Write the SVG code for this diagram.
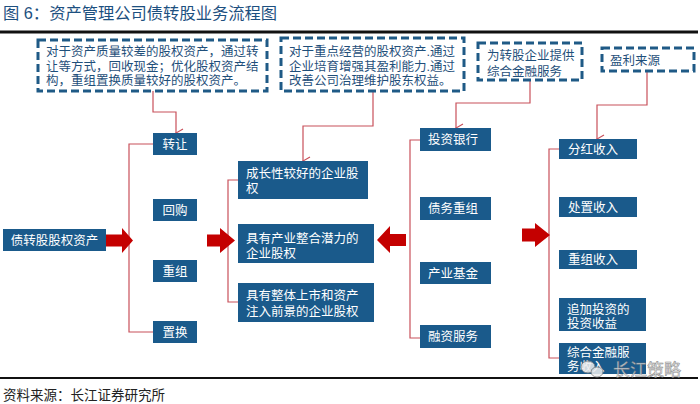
<svg xmlns="http://www.w3.org/2000/svg" width="700" height="404" viewBox="0 0 700 404">
<defs>
<style>
.t{font-family:"Liberation Sans","Noto Sans CJK SC",sans-serif;}
.title{font-size:16.3px;fill:#1d5080;}
.foot{font-size:13.5px;fill:#222;}
.box{fill:#1a5a8b;}
.bt{font-size:12.5px;fill:#fff;}
.dash{fill:#fff;stroke:#1f5a86;stroke-width:3;stroke-dasharray:8 4;}
.dt{font-size:12.5px;fill:#1f4f7a;}
.con{fill:none;stroke:#c8505a;stroke-width:1.2;}
.big{fill:#c40000;}
.rule{stroke:#111;}
</style>
<marker id="ah" markerWidth="10" markerHeight="10" refX="5" refY="9" orient="auto" markerUnits="userSpaceOnUse" viewBox="0 0 10 10">
<path d="M1,2 L5,9 L9,2" fill="none" stroke="#c8505a" stroke-width="1.2"/>
</marker>
</defs>
<rect width="700" height="404" fill="#fff"/>
<text class="t title" x="3" y="19">图 6：资产管理公司债转股业务流程图</text>
<line class="rule" x1="0" y1="32" x2="698" y2="32" stroke-width="3"/>

<g id="connectors">
<path class="con" d="M153,91 V112 H176 V133" marker-end="url(#ah)"/>
<path class="con" d="M373,91 V126 H303 V161" marker-end="url(#ah)"/>
<path class="con" d="M530,80 V103 H456 V128" marker-end="url(#ah)"/>
<path class="con" d="M647,71 V105 H597 V139" marker-end="url(#ah)"/>
<path class="con" d="M153,144 H129 V332 H153"/>
<path class="con" d="M238,180 H228 V302 H238"/>
<path class="con" d="M420,140 H410 V338 H420"/>
<path class="con" d="M559,149 H549 V358 H559"/>
<polygon class="big" points="105,234.5 122,234.5 122,228 133,240.5 122,253 122,246.5 105,246.5"/>
<polygon class="big" points="207,234.5 220,234.5 220,228 235,240.5 220,253 220,246.5 207,246.5"/>
<polygon class="big" points="406,234 390,234 390,226 377,240 390,253 390,246 406,246"/>
<polygon class="big" points="522,228.5 535,228.5 535,223 550,235 535,247 535,241.5 522,241.5"/>
</g>

<g id="note1"><rect class="dash" x="38" y="40" width="229" height="51"/>
<text class="t dt" x="46" y="55.5">对于资产质量较差的股权资产，通过转</text>
<text class="t dt" x="46" y="70.5">让等方式，回收现金；优化股权资产结</text>
<text class="t dt" x="46" y="85">构，重组置换质量较好的股权资产。</text></g>

<g id="note2"><rect class="dash" x="281" y="38" width="183" height="53"/>
<text class="t dt" x="289" y="55.5">对于重点经营的股权资产.通过</text>
<text class="t dt" x="289" y="70.5">企业培育增强其盈利能力.通过</text>
<text class="t dt" x="289" y="85">改善公司治理维护股东权益。</text></g>

<g id="note3"><rect class="dash" x="478" y="43" width="104" height="37"/>
<text class="t dt" x="487" y="59.5">为转股企业提供</text>
<text class="t dt" x="487" y="75.5">综合金融服务</text></g>

<g id="note4"><rect class="dash" x="602" y="48" width="92" height="23"/>
<text class="t dt" x="610" y="65">盈利来源</text></g>

<g id="src"><rect class="box" x="3" y="229" width="103" height="22"/>
<text class="t bt" x="54.5" y="244.5" text-anchor="middle">债转股股权资产</text></g>

<g id="n-zhuanrang"><rect class="box" x="153" y="133" width="44" height="22"/>
<text class="t bt" x="175" y="148.5" text-anchor="middle">转让</text></g>
<g id="n-huigou"><rect class="box" x="153" y="199" width="44" height="22"/>
<text class="t bt" x="175" y="214.5" text-anchor="middle">回购</text></g>
<g id="n-chongzu"><rect class="box" x="153" y="260" width="44" height="22"/>
<text class="t bt" x="175" y="275.5" text-anchor="middle">重组</text></g>
<g id="n-zhihuan"><rect class="box" x="153" y="321" width="44" height="22"/>
<text class="t bt" x="175" y="336.5" text-anchor="middle">置换</text></g>

<g id="m1"><rect class="box" x="238" y="161" width="130" height="38"/>
<text class="t bt" x="246" y="177.5">成长性较好的企业股</text>
<text class="t bt" x="246" y="192.5">权</text></g>
<g id="m2"><rect class="box" x="238" y="224" width="136" height="39"/>
<text class="t bt" x="246" y="242.5">具有产业整合潜力的</text>
<text class="t bt" x="246" y="257.5">企业股权</text></g>
<g id="m3"><rect class="box" x="238" y="283" width="136" height="39"/>
<text class="t bt" x="246" y="299.5">具有整体上市和资产</text>
<text class="t bt" x="246" y="315.5">注入前景的企业股权</text></g>

<g id="r1"><rect class="box" x="420" y="128" width="71" height="23"/>
<text class="t bt" x="428" y="144">投资银行</text></g>
<g id="r2"><rect class="box" x="420" y="197" width="71" height="23"/>
<text class="t bt" x="428" y="213">债务重组</text></g>
<g id="r3"><rect class="box" x="420" y="262" width="71" height="22"/>
<text class="t bt" x="428" y="277.5">产业基金</text></g>
<g id="r4"><rect class="box" x="420" y="325" width="71" height="23"/>
<text class="t bt" x="428" y="341">融资服务</text></g>

<g id="p1"><rect class="box" x="559" y="139" width="78" height="20"/>
<text class="t bt" x="568" y="153.5">分红收入</text></g>
<g id="p2"><rect class="box" x="559" y="197" width="78" height="20"/>
<text class="t bt" x="568" y="211.5">处置收入</text></g>
<g id="p3"><rect class="box" x="559" y="250" width="78" height="19"/>
<text class="t bt" x="568" y="264">重组收入</text></g>
<g id="p4"><rect class="box" x="559" y="298" width="87" height="33"/>
<text class="t bt" x="567" y="313.5">追加投资的</text>
<text class="t bt" x="567" y="327.5">投资收益</text></g>
<g id="p5"><rect class="box" x="559" y="343" width="87" height="31"/>
<text class="t bt" x="567" y="356.5">综合金融服</text>
<text class="t bt" x="567" y="371">务收入</text></g>

<line class="rule" x1="0" y1="378" x2="698" y2="378" stroke-width="2"/>

<g id="watermark" opacity="0.85">
<ellipse cx="588" cy="367" rx="7" ry="6" fill="#eee" stroke="#888" stroke-width="1"/>
<ellipse cx="597" cy="372" rx="6" ry="5" fill="#eee" stroke="#888" stroke-width="1"/>
<text class="t" x="613" y="376" font-size="17" fill="#e6e6e6" stroke="#777" stroke-width="0.5">长江策略</text>
</g>

<text class="t foot" x="3" y="400">资料来源：长江证券研究所</text>
</svg>
